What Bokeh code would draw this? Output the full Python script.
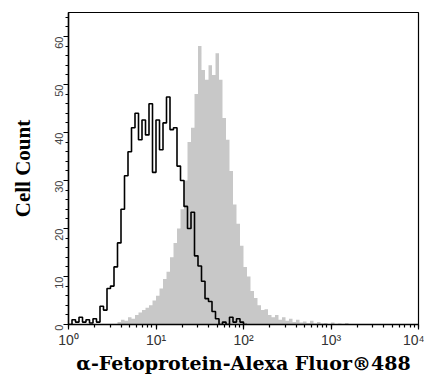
import math
from bokeh.plotting import figure
from bokeh.models import FixedTicker, LogTicker, CustomJSTickFormatter, Range1d
from bokeh.embed import file_html
from bokeh.resources import INLINE

# ---- data (log10 bin start, bin width in decades, counts per channel) ----
BIN_WIDTH = 0.04
ISOTYPE_START = 0.0
isotype_counts = [0, 1, 0.5, 1.5, 0.5, 1, 0.3, 1.2, 0.5, 3.8,
                  3, 7.5, 8, 12, 17, 24, 31, 36, 41, 44,
                  38.5, 42.6, 39.5, 46, 31.7, 42.6, 36.4, 42, 47.4, 40.6,
                  41, 33, 30, 24.6, 20, 23.4, 14.3, 12.2, 9, 5.4,
                  4.8, 2.7, 1.2, 0, 0.5, 0, 1.5, 0.5, 1.2, 0.5, 0]
STAINED_START = 0.56
stained_counts = [0.5, 1, 0.8, 1.5, 1.2, 2, 2.5, 3, 3.5, 4,
                  5, 6, 7.5, 9.5, 11, 14, 17, 20, 24, 30,
                  38, 41, 48, 58, 53, 51, 54, 52, 56.5, 51,
                  43, 38.5, 32, 25, 21, 16.4, 12, 10, 7, 5.5,
                  4, 3, 3.2, 2, 1.5, 2, 1, 1.5, 0.8, 1.2,
                  0.5, 1, 0.4, 0.6, 0.3, 0.8, 0.2, 0.5, 0.2, 0.3,
                  0.1, 0.4, 0.1, 0.2, 0.1, 0.3]
y_ticks = [0, 10, 20, 30, 40, 50, 60]
x_label = "\u03b1-Fetoprotein-Alexa Fluor\u00ae488"
y_label = "Cell Count"

p = figure(width=424, height=376, x_axis_type="log",
           x_range=Range1d(1, 10000), y_range=Range1d(0, 65),
           output_backend="svg", toolbar_location=None,
           min_border_left=68, min_border_right=6,
           min_border_top=12, min_border_bottom=50)
p.background_fill_color = "white"
p.border_fill_color = "white"
p.grid.visible = False
p.outline_line_color = "black"
p.outline_line_width = 1.2

# stained (grey filled) histogram as one step-shaped patch
px, py = [10 ** STAINED_START], [0]
for i, c in enumerate(stained_counts):
    a = 10 ** (STAINED_START + i * BIN_WIDTH)
    b = 10 ** (STAINED_START + (i + 1) * BIN_WIDTH)
    px += [a, b]
    py += [c, c]
px.append(px[-1])
py.append(0)
p.patch(px, py, fill_color="#c8c8c8", line_color=None)

# isotype (black outline) histogram as step path
xs, ys = [], []
for i, c in enumerate(isotype_counts):
    a = 10 ** (ISOTYPE_START + i * BIN_WIDTH)
    b = 10 ** (ISOTYPE_START + (i + 1) * BIN_WIDTH)
    xs += [a, b]
    ys += [c, c]
p.line(xs, ys, line_color="black", line_width=1.6)

# axes
p.xaxis.ticker = LogTicker(mantissas=[1], num_minor_ticks=10)
p.xaxis.formatter = CustomJSTickFormatter(code="""
const sup = ["\u2070", "\u00b9", "\u00b2", "\u00b3", "\u2074", "\u2075"];
const e = Math.round(Math.log10(tick));
return "10" + sup[e];
""")
p.yaxis.ticker = FixedTicker(ticks=y_ticks, minor_ticks=list(range(0, 66, 2)))
p.yaxis.major_label_orientation = math.pi / 2

for ax in (p.xaxis[0], p.yaxis[0]):
    ax.axis_line_color = "black"
    ax.axis_line_width = 1.5
    ax.major_tick_line_color = "black"
    ax.minor_tick_line_color = "black"
    ax.major_tick_line_width = 1.2
    ax.minor_tick_line_width = 1.2
    ax.major_tick_in = 0
    ax.minor_tick_in = 0
    ax.major_tick_out = 5
    ax.minor_tick_out = 3
    ax.axis_label_text_font_style = "bold"
    ax.axis_label_text_color = "black"
    ax.major_label_text_font = "Liberation Sans"

p.xaxis.axis_label = x_label
p.xaxis.axis_label_text_font = "DejaVu Serif"
p.xaxis.axis_label_text_font_size = "19px"
p.yaxis.axis_label = y_label
p.yaxis.axis_label_text_font = "Liberation Serif"
p.yaxis.axis_label_text_font_size = "21px"
p.xaxis.major_label_text_font_size = "14px"
p.xaxis.major_label_text_color = "#333333"
p.xaxis.major_label_standoff = 2
p.xaxis.axis_label_standoff = 1
p.yaxis.major_label_text_font_size = "11px"
p.yaxis.major_label_text_color = "#444444"
p.yaxis.major_label_standoff = 5
p.yaxis.axis_label_standoff = 13

open("out.html", "w").write(file_html(p, INLINE))
